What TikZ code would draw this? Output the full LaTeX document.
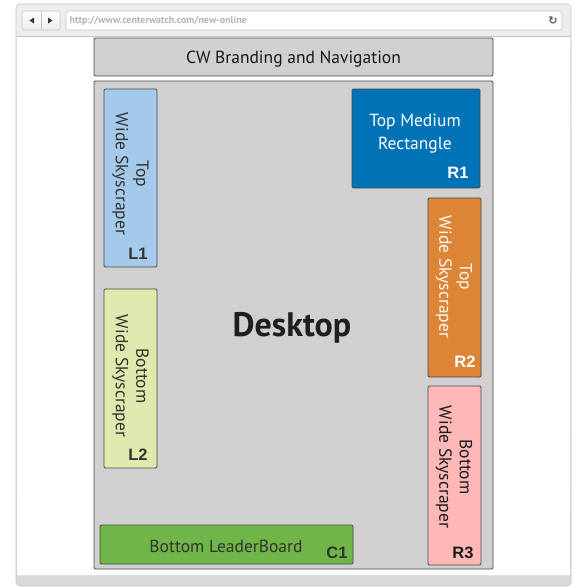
\documentclass[tikz,border=0pt]{standalone}
\usepackage{fontspec}
\setmainfont{PT Sans}
\newfontfamily\lblfont{Liberation Sans}
\newfontfamily\symfont{DejaVu Sans}
\definecolor{deskgray}{HTML}{D0D0D0}
\definecolor{edgegray}{HTML}{4A4A4A}
\definecolor{chrometop}{HTML}{EEEEEE}
\definecolor{chromebot}{HTML}{D9D9D9}
\definecolor{chromeedge}{HTML}{C4C4C4}
\definecolor{urltext}{HTML}{B4B4B4}
\definecolor{lblue}{HTML}{A4C9EA}
\definecolor{lgreen}{HTML}{DDE9AD}
\definecolor{rblue}{HTML}{0072B6}
\definecolor{rorange}{HTML}{DD8537}
\definecolor{rpink}{HTML}{FFB8B8}
\definecolor{cgreen}{HTML}{70B548}
\definecolor{darktext}{HTML}{333333}
\begin{document}
\begin{tikzpicture}[x=1pt,y=-1pt,
  box/.style={draw=edgegray, line width=0.8pt, rounded corners=1.2pt, inner sep=0pt},
  vtext/.style={rotate=-90, align=center, inner sep=0pt, font=\fontsize{17.5}{20.5}\selectfont},
  htext/.style={align=center, inner sep=0pt, font=\fontsize{17.5}{23.5}\selectfont},
  tag/.style={inner sep=0pt, font=\lblfont\bfseries\fontsize{16.5}{16.5}\selectfont}]
\useasboundingbox (0,0) rectangle (577,587);
% browser window
\shade[top color=chrometop, bottom color=chromebot, draw=chromeedge, line width=0.6pt, rounded corners=4pt]
  (16,4) rectangle (571,586);
\fill[white] (16.8,36) rectangle (570.2,575);
\draw[chromeedge, line width=0.6pt] (16.5,36) -- (570.5,36);
\draw[black!12, line width=0.6pt] (16.8,575) -- (570.2,575);
% nav buttons
\shade[top color=white, bottom color=black!7, draw=chromeedge, line width=0.6pt, rounded corners=2pt]
  (22,11) rectangle (60,30);
\draw[chromeedge, line width=0.6pt] (41,11) -- (41,30);
\fill[black!80] (29.5,20.5) -- (34,17.5) -- (34,23.5) -- cycle;
\fill[black!80] (52.5,20.5) -- (48,17.5) -- (48,23.5) -- cycle;
% url bar
\draw[fill=white, draw=chromeedge, line width=0.6pt, rounded corners=2pt] (66,11) rectangle (562,30);
\node[anchor=west, inner sep=0pt, text=urltext, font=\bfseries\fontsize{10}{10}\selectfont] (url) at (69.5,20.5) {http://www.centerwatch.com/new-online};
\node[inner sep=0pt, text=black!65, font=\symfont\bfseries\fontsize{11}{11}\selectfont] (reload) at (553,20.5) {↻};
% branding
\node[box, fill=deskgray, minimum width=399pt, minimum height=38pt] (brand) at (293.5,57) {};
\node[htext, text=black!90] (brandtxt) at (293.5,59.5) {CW Branding and Navigation};
% desktop
\node[box, fill=deskgray, minimum width=399pt, minimum height=488pt] (desk) at (293.5,325) {};
\node[inner sep=0pt, text=black!88, font=\bfseries\fontsize{34}{34}\selectfont] (desktxt) at (292,328) {Desktop};
% L1
\node[box, fill=lblue, minimum width=53pt, minimum height=178pt] (l1) at (130.5,178) {};
\node[vtext, text=darktext] (l1txt) at (130.5,174) {Top\\Wide Skyscraper};
\node[tag, text=darktext] (l1tag) at (138,253.5) {L1};
% L2
\node[box, fill=lgreen, minimum width=53pt, minimum height=179pt] (l2) at (130.5,378.5) {};
\node[vtext, text=darktext] (l2txt) at (130.5,376) {Bottom\\Wide Skyscraper};
\node[tag, text=darktext] (l2tag) at (138,455) {L2};
% R1
\node[box, fill=rblue, minimum width=128pt, minimum height=99pt] (r1) at (416,138.5) {};
\node[htext, text=white] (r1txt) at (415,133.5) {Top Medium\\Rectangle};
\node[tag, text=white] (r1tag) at (458,172.5) {R1};
% R2
\node[box, fill=rorange, minimum width=53pt, minimum height=179pt] (r2) at (454.5,287.5) {};
\node[vtext, text=white!95!rorange] (r2txt) at (454,277) {Top\\Wide Skyscraper};
\node[tag, text=white] (r2tag) at (465,361.5) {R2};
% R3
\node[box, fill=rpink, minimum width=53pt, minimum height=179pt] (r3) at (454.5,475.5) {};
\node[vtext, text=black!90] (r3txt) at (454,467) {Bottom\\Wide Skyscraper};
\node[tag, text=black!90] (r3tag) at (463,553) {R3};
% C1
\node[box, fill=cgreen, minimum width=253pt, minimum height=39pt] (c1) at (226.5,544.5) {};
\node[htext, text=darktext] (c1txt) at (226,546.5) {Bottom LeaderBoard};
\node[tag, text=darktext] (c1tag) at (337,552.5) {C1};
\end{tikzpicture}
\end{document}
